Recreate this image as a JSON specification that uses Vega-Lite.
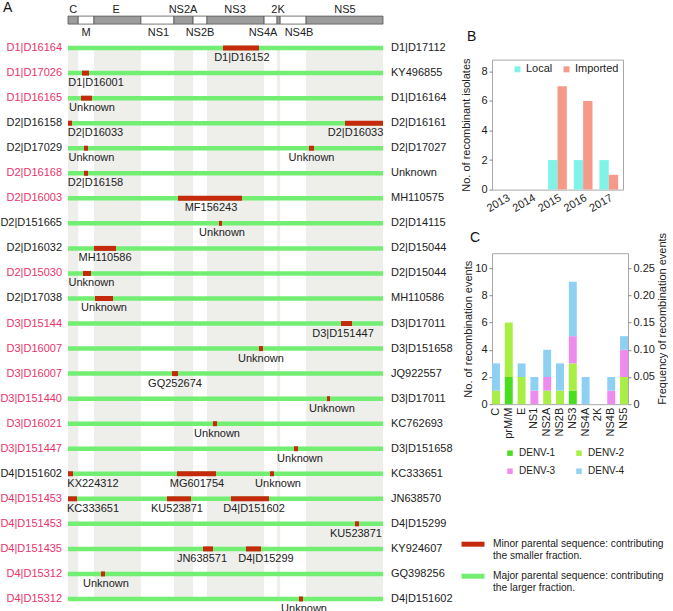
{
  "$schema": "https://vega.github.io/schema/vega-lite/v6.json",
  "padding": {"left": 0, "top": 0, "right": 0, "bottom": 0},
  "config": {
    "font": "Liberation Sans",
    "view": {"stroke": "#a8a8a8"},
    "title": {"fontSize": 14, "fontWeight": "normal", "anchor": "start", "frame": "group", "baseline": "alphabetic", "color": "#111111"},
    "axis": {"labelFontSize": 11, "labelColor": "#222222", "titleFontSize": 11, "titleFontWeight": "normal", "titleColor": "#222222", "grid": false, "domain": false, "tickColor": "#888888", "tickSize": 3},
    "legend": {"labelFontSize": 11, "labelColor": "#222222", "padding": 0},
    "text": {"fontSize": 11}
  },
  "datasets": {
    "genes": [
      {"gene": "C", "start": 0, "end": 330, "side": "above", "labelAt": 165},
      {"gene": "M", "start": 330, "end": 840, "side": "below", "labelAt": 585},
      {"gene": "E", "start": 840, "end": 2360, "side": "above", "labelAt": 1560},
      {"gene": "NS1", "start": 2360, "end": 3430, "side": "below", "labelAt": 2930},
      {"gene": "NS2A", "start": 3430, "end": 4050, "side": "above", "labelAt": 3725},
      {"gene": "NS2B", "start": 4050, "end": 4500, "side": "below", "labelAt": 4275},
      {"gene": "NS3", "start": 4500, "end": 6350, "side": "above", "labelAt": 5410},
      {"gene": "NS4A", "start": 6350, "end": 6770, "side": "below", "labelAt": 6315},
      {"gene": "2K", "start": 6770, "end": 6870, "side": "above", "labelAt": 6800},
      {"gene": "NS4B", "start": 6870, "end": 7710, "side": "below", "labelAt": 7480},
      {"gene": "NS5", "start": 7710, "end": 10200, "side": "above", "labelAt": 8970}
    ],
    "rows": [
      {"row": 1, "left": "D1|D16164", "right": "D1|D17112", "origin": "Imported"},
      {"row": 2, "left": "D1|D17026", "right": "KY496855", "origin": "Imported"},
      {"row": 3, "left": "D1|D16165", "right": "D1|D16164", "origin": "Imported"},
      {"row": 4, "left": "D2|D16158", "right": "D2|D16161", "origin": "Local"},
      {"row": 5, "left": "D2|D17029", "right": "D2|D17027", "origin": "Local"},
      {"row": 6, "left": "D2|D16168", "right": "Unknown", "origin": "Imported"},
      {"row": 7, "left": "D2|D16003", "right": "MH110575", "origin": "Imported"},
      {"row": 8, "left": "D2|D151665", "right": "D2|D14115", "origin": "Local"},
      {"row": 9, "left": "D2|D16032", "right": "D2|D15044", "origin": "Local"},
      {"row": 10, "left": "D2|D15030", "right": "D2|D15044", "origin": "Imported"},
      {"row": 11, "left": "D2|D17038", "right": "MH110586", "origin": "Local"},
      {"row": 12, "left": "D3|D15144", "right": "D3|D17011", "origin": "Imported"},
      {"row": 13, "left": "D3|D16007", "right": "D3|D151658", "origin": "Imported"},
      {"row": 14, "left": "D3|D16007", "right": "JQ922557", "origin": "Imported"},
      {"row": 15, "left": "D3|D151440", "right": "D3|D17011", "origin": "Imported"},
      {"row": 16, "left": "D3|D16021", "right": "KC762693", "origin": "Imported"},
      {"row": 17, "left": "D3|D151447", "right": "D3|D151658", "origin": "Imported"},
      {"row": 18, "left": "D4|D151602", "right": "KC333651", "origin": "Local"},
      {"row": 19, "left": "D4|D151453", "right": "JN638570", "origin": "Imported"},
      {"row": 20, "left": "D4|D151453", "right": "D4|D15299", "origin": "Imported"},
      {"row": 21, "left": "D4|D151435", "right": "KY924607", "origin": "Imported"},
      {"row": 22, "left": "D4|D15312", "right": "GQ398256", "origin": "Imported"},
      {"row": 23, "left": "D4|D15312", "right": "D4|D151602", "origin": "Imported"}
    ],
    "segments": [
      {"row": 1, "start": 5020, "end": 6185, "parent": "D1|D16152", "labelAt": 5630},
      {"row": 2, "start": 453, "end": 680, "parent": "D1|D16001", "labelAt": 907},
      {"row": 3, "start": 421, "end": 777, "parent": "Unknown", "labelAt": 777},
      {"row": 4, "start": 0, "end": 130, "parent": "D2|D16033", "labelAt": 890},
      {"row": 4, "start": 8970, "end": 10200, "parent": "D2|D16033", "labelAt": 9310},
      {"row": 5, "start": 518, "end": 648, "parent": "Unknown", "labelAt": 760},
      {"row": 5, "start": 7804, "end": 7965, "parent": "Unknown", "labelAt": 7885},
      {"row": 6, "start": 518, "end": 648, "parent": "D2|D16158", "labelAt": 890},
      {"row": 7, "start": 3562, "end": 5634, "parent": "MF156243", "labelAt": 4630},
      {"row": 8, "start": 4889, "end": 4987, "parent": "Unknown", "labelAt": 4987},
      {"row": 9, "start": 842, "end": 1554, "parent": "MH110586", "labelAt": 1198},
      {"row": 10, "start": 486, "end": 745, "parent": "Unknown", "labelAt": 760},
      {"row": 11, "start": 874, "end": 1457, "parent": "Unknown", "labelAt": 1166},
      {"row": 12, "start": 8840, "end": 9196, "parent": "D3|D151447", "labelAt": 8905},
      {"row": 13, "start": 6185, "end": 6314, "parent": "Unknown", "labelAt": 6249},
      {"row": 14, "start": 3368, "end": 3562, "parent": "GQ252674", "labelAt": 3465},
      {"row": 15, "start": 8386, "end": 8484, "parent": "Unknown", "labelAt": 8548},
      {"row": 16, "start": 4695, "end": 4825, "parent": "Unknown", "labelAt": 4825},
      {"row": 17, "start": 7318, "end": 7447, "parent": "Unknown", "labelAt": 7512},
      {"row": 18, "start": 0, "end": 162, "parent": "KX224312", "labelAt": 810},
      {"row": 18, "start": 3529, "end": 4792, "parent": "MG601754", "labelAt": 4177},
      {"row": 18, "start": 6541, "end": 6670, "parent": "Unknown", "labelAt": 6800},
      {"row": 19, "start": 0, "end": 291, "parent": "KC333651", "labelAt": 810},
      {"row": 19, "start": 3206, "end": 3983, "parent": "KU523871", "labelAt": 3529},
      {"row": 19, "start": 5278, "end": 6508, "parent": "D4|D151602", "labelAt": 6023},
      {"row": 20, "start": 9293, "end": 9423, "parent": "KU523871", "labelAt": 9325},
      {"row": 21, "start": 4371, "end": 4695, "parent": "JN638571", "labelAt": 4339},
      {"row": 21, "start": 5764, "end": 6249, "parent": "D4|D15299", "labelAt": 6411},
      {"row": 22, "start": 1069, "end": 1198, "parent": "Unknown", "labelAt": 1230},
      {"row": 23, "start": 7480, "end": 7609, "parent": "Unknown", "labelAt": 7642}
    ],
    "isolates": [
      {"year": "2013", "origin": "Local", "count": 0},
      {"year": "2013", "origin": "Imported", "count": 0},
      {"year": "2014", "origin": "Local", "count": 0},
      {"year": "2014", "origin": "Imported", "count": 0},
      {"year": "2015", "origin": "Local", "count": 2},
      {"year": "2015", "origin": "Imported", "count": 7},
      {"year": "2016", "origin": "Local", "count": 2},
      {"year": "2016", "origin": "Imported", "count": 6},
      {"year": "2017", "origin": "Local", "count": 2},
      {"year": "2017", "origin": "Imported", "count": 1}
    ],
    "events": [
      {"region": "C", "serotype": "DENV-2", "count": 1},
      {"region": "C", "serotype": "DENV-4", "count": 2},
      {"region": "prM/M", "serotype": "DENV-1", "count": 2},
      {"region": "prM/M", "serotype": "DENV-2", "count": 4},
      {"region": "E", "serotype": "DENV-2", "count": 2},
      {"region": "E", "serotype": "DENV-4", "count": 1},
      {"region": "NS1", "serotype": "DENV-3", "count": 1},
      {"region": "NS1", "serotype": "DENV-4", "count": 1},
      {"region": "NS2A", "serotype": "DENV-2", "count": 1},
      {"region": "NS2A", "serotype": "DENV-3", "count": 1},
      {"region": "NS2A", "serotype": "DENV-4", "count": 2},
      {"region": "NS2B", "serotype": "DENV-2", "count": 1},
      {"region": "NS2B", "serotype": "DENV-4", "count": 2},
      {"region": "NS3", "serotype": "DENV-1", "count": 1},
      {"region": "NS3", "serotype": "DENV-2", "count": 2},
      {"region": "NS3", "serotype": "DENV-3", "count": 2},
      {"region": "NS3", "serotype": "DENV-4", "count": 4},
      {"region": "NS4A", "serotype": "DENV-4", "count": 2},
      {"region": "NS4B", "serotype": "DENV-3", "count": 1},
      {"region": "NS4B", "serotype": "DENV-4", "count": 1},
      {"region": "NS5", "serotype": "DENV-2", "count": 2},
      {"region": "NS5", "serotype": "DENV-3", "count": 2},
      {"region": "NS5", "serotype": "DENV-4", "count": 1}
    ],
    "parental": [
      {"sequence": "Minor parental sequence: contributing the smaller fraction."},
      {"sequence": "Major parental sequence: contributing the larger fraction."}
    ]
  },
  "spacing": 5,
  "resolve": {
    "scale": {"color": "independent", "fill": "independent", "stroke": "independent", "x": "independent", "y": "independent"},
    "legend": {"color": "independent", "fill": "independent", "stroke": "independent"}
  },
  "hconcat": [
    {
      "width": 315,
      "height": 606,
      "view": {"stroke": null},
      "title": {"text": "A", "dx": -65, "offset": -11.5},
      "layer": [
        {
          "data": {"name": "genes"},
          "transform": [{"filter": "datum.side === 'above'"}],
          "mark": {"type": "rect", "color": "#eeeeeb"},
          "encoding": {
            "x": {"field": "start", "type": "quantitative", "scale": {"domain": [0, 10200], "nice": false, "zero": false}, "axis": null},
            "x2": {"field": "end"},
            "y": {"datum": 1, "type": "quantitative", "scale": {"domain": [-0.8, 23.4], "reverse": true, "nice": false, "zero": false}, "axis": null},
            "y2": {"datum": 23}
          }
        },
        {
          "data": {"name": "genes"},
          "mark": {"type": "rect", "stroke": "#555555", "strokeWidth": 0.8},
          "encoding": {
            "x": {"field": "start", "type": "quantitative"},
            "x2": {"field": "end"},
            "y": {"datum": -0.277, "type": "quantitative"},
            "y2": {"datum": 0.042},
            "fill": {"field": "side", "type": "nominal", "scale": {"domain": ["above", "below"], "range": ["#9c9c9c", "#ffffff"]}, "legend": null}
          }
        },
        {
          "data": {"name": "genes"},
          "transform": [{"filter": "datum.side === 'above'"}],
          "mark": {"type": "text", "color": "#222222", "fontSize": 11},
          "encoding": {
            "x": {"field": "labelAt", "type": "quantitative"},
            "y": {"datum": -0.52, "type": "quantitative"},
            "text": {"field": "gene"}
          }
        },
        {
          "data": {"name": "genes"},
          "transform": [{"filter": "datum.side === 'below'"}],
          "mark": {"type": "text", "color": "#222222", "fontSize": 11},
          "encoding": {
            "x": {"field": "labelAt", "type": "quantitative"},
            "y": {"datum": 0.40, "type": "quantitative"},
            "text": {"field": "gene"}
          }
        },
        {
          "data": {"name": "rows"},
          "mark": {"type": "rule", "color": "#72ee72", "strokeWidth": 4.5},
          "encoding": {
            "x": {"datum": 0, "type": "quantitative"},
            "x2": {"datum": 10200},
            "y": {"field": "row", "type": "quantitative"}
          }
        },
        {
          "data": {"name": "segments"},
          "mark": {"type": "rule", "color": "#c52a0c", "strokeWidth": 5},
          "encoding": {
            "x": {"field": "start", "type": "quantitative"},
            "x2": {"field": "end"},
            "y": {"field": "row", "type": "quantitative"}
          }
        },
        {
          "data": {"name": "segments"},
          "mark": {"type": "text", "color": "#222222", "fontSize": 11, "dy": 10},
          "encoding": {
            "x": {"field": "labelAt", "type": "quantitative"},
            "y": {"field": "row", "type": "quantitative"},
            "text": {"field": "parent"}
          }
        },
        {
          "data": {"name": "rows"},
          "mark": {"type": "text", "align": "right", "dx": -6, "fontSize": 11},
          "encoding": {
            "x": {"datum": 0, "type": "quantitative"},
            "y": {"field": "row", "type": "quantitative"},
            "text": {"field": "left"},
            "color": {"field": "origin", "type": "nominal", "scale": {"domain": ["Imported", "Local"], "range": ["#e8336b", "#222222"]}, "legend": null}
          }
        },
        {
          "data": {"name": "rows"},
          "mark": {"type": "text", "align": "left", "dx": 8, "fontSize": 11, "color": "#222222"},
          "encoding": {
            "x": {"datum": 10200, "type": "quantitative"},
            "y": {"field": "row", "type": "quantitative"},
            "text": {"field": "right"}
          }
        }
      ]
    },
    {
      "columns": 1,
      "align": "none",
      "spacing": 15.6,
      "resolve": {
        "scale": {"color": "independent", "fill": "independent", "stroke": "independent", "x": "independent", "y": "independent"},
        "legend": {"color": "independent", "fill": "independent", "stroke": "independent"}
      },
      "concat": [
        {
          "width": 1,
          "height": 10,
          "view": {"stroke": null},
          "data": {"values": [{"t": ""}]},
          "mark": {"type": "text", "fontSize": 0},
          "encoding": {"text": {"field": "t"}}
        },
        {
          "width": 131,
          "height": 130,
          "title": {"text": "B", "dx": -25, "offset": 14},
          "data": {"name": "isolates"},
          "mark": {"type": "bar"},
          "encoding": {
            "x": {"field": "year", "type": "nominal", "scale": {"paddingInner": 0.27, "paddingOuter": 0.19}, "axis": {"title": null, "labelAngle": -30, "ticks": false, "labelPadding": 2, "labelAlign": "right", "labelBaseline": "top"}},
            "xOffset": {"field": "origin", "type": "nominal", "sort": ["Local", "Imported"], "scale": {"paddingInner": 0, "paddingOuter": 0}},
            "y": {"field": "count", "type": "quantitative", "scale": {"domain": [0, 8.8], "nice": false}, "axis": {"values": [0, 2, 4, 6, 8], "title": "No. of recombinant isolates", "titlePadding": 9.4, "labelPadding": 2}},
            "color": {"field": "origin", "type": "nominal", "scale": {"domain": ["Local", "Imported"], "range": ["#80f3e9", "#f59a89"]}, "legend": {"title": null, "orient": "top-right", "direction": "horizontal", "offset": 4, "symbolType": "square", "symbolSize": 36, "labelOffset": 3, "columnPadding": 8, "padding": 0}}
          }
        },
        {
          "width": 136,
          "height": 151,
          "title": {"text": "C", "dx": -22, "offset": -12.5},
          "layer": [
            {
              "data": {"name": "events"},
              "mark": {"type": "bar"},
              "encoding": {
                "x": {"field": "region", "type": "nominal", "scale": {"domain": ["C", "prM/M", "E", "NS1", "NS2A", "NS2B", "NS3", "NS4A", "2K", "NS4B", "NS5"], "paddingInner": 0.38, "paddingOuter": 0}, "axis": {"title": null, "labelAngle": -90, "ticks": false, "labelPadding": 3}},
                "y": {"field": "count", "type": "quantitative", "stack": "zero", "scale": {"domain": [0, 11.1], "nice": false}, "axis": {"values": [0, 2, 4, 6, 8, 10], "title": "No. of recombination events", "titlePadding": 1, "labelPadding": 2}},
                "color": {"field": "serotype", "type": "nominal", "scale": {"domain": ["DENV-1", "DENV-2", "DENV-3", "DENV-4"], "range": ["#4ade1e", "#a8ee44", "#ee8bee", "#8dd0f2"]}, "legend": {"title": null, "orient": "bottom", "offset": -4.5, "padding": 13, "columns": 2, "direction": "horizontal", "symbolType": "square", "symbolSize": 30, "labelFontSize": 10, "labelOffset": 4, "columnPadding": 18, "rowPadding": 8}},
                "order": {"field": "serotype", "sort": "ascending"}
              }
            },
            {
              "data": {"name": "parental"},
              "mark": {"type": "rule", "opacity": 0},
              "encoding": {
                "y": {"datum": 0, "type": "quantitative", "scale": {"domain": [0, 0.2775], "nice": false}, "axis": {"orient": "right", "values": [0, 0.05, 0.1, 0.15, 0.2, 0.25], "labelExpr": "datum.value === 0 ? '0' : format(datum.value, '.2f')", "title": "Frequency of recombination events", "titleAngle": 270, "titleAnchor": "start", "titleBaseline": "top", "titlePadding": 2, "labelPadding": 2}},
                "stroke": {"field": "sequence", "type": "nominal", "scale": {"domain": ["Minor parental sequence: contributing the smaller fraction.", "Major parental sequence: contributing the larger fraction."], "range": ["#c52a0c", "#72ee72"]}, "legend": {"title": null, "orient": "none", "legendX": -33, "legendY": 277, "padding": 0, "symbolType": "stroke", "symbolSize": 529, "symbolStrokeWidth": 5, "symbolOpacity": 1, "labelFontSize": 10.2, "labelLimit": 400, "labelOffset": 6, "rowPadding": -2, "labelExpr": "[slice(datum.label, 0, indexof(datum.label, ' the ')), slice(datum.label, indexof(datum.label, ' the ') + 1)]"}}
              }
            }
          ],
          "resolve": {"scale": {"y": "independent"}}
        }
      ]
    }
  ]
}
